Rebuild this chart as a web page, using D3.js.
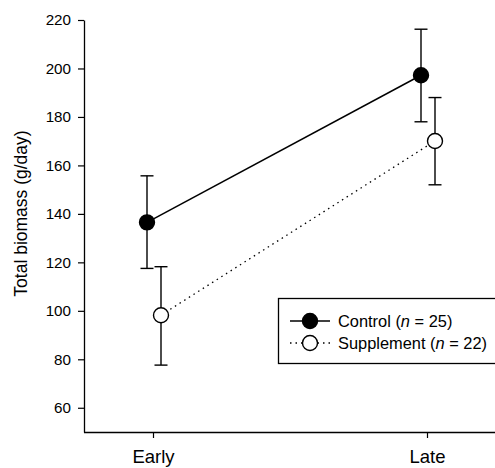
<!DOCTYPE html>
<html><head><meta charset="utf-8">
<script src="https://cdn.jsdelivr.net/npm/d3@7"></script>
<style>body{margin:0;background:#fff}svg{display:block}text{font-family:"Liberation Sans",Arial,sans-serif;fill:#000}</style>
</head><body><svg id="c" width="495" height="468"></svg>
<script>
const categories = ["Early", "Late"];
const controlMean = [136.5, 197.2];
const controlUpper = [155.7, 216.2];
const controlLower = [117.5, 178.0];
const suppMean = [98.2, 170.1];
const suppUpper = [118.2, 188.0];
const suppLower = [77.6, 152.0];
const yTicks = [60, 80, 100, 120, 140, 160, 180, 200, 220];
const seriesNames = ["Control", "Supplement"];
const seriesN = [25, 22];

const svg = d3.select("#c");
const x = d3.scalePoint().domain(categories).range([153, 427]);
const y = d3.scaleLinear().domain([50, 220]).range([432, 20]);

// axes
const yAxis = svg.append("g").attr("transform", "translate(84,0)")
  .call(d3.axisLeft(y).tickValues(yTicks).tickSize(6).tickSizeOuter(0));
yAxis.select(".domain").attr("stroke", "#000").attr("stroke-width", 1.3);
yAxis.selectAll(".tick line").attr("stroke-width", 1.2);
yAxis.selectAll(".tick text").attr("font-size", 15.2).attr("x", -13).attr("font-family", "Liberation Sans, Arial, sans-serif");

const xAxis = svg.append("g").attr("transform", "translate(0,432)")
  .call(d3.axisBottom(x).tickSize(6).tickSizeOuter(0));
xAxis.select(".domain").attr("d", "M84,0.5H495").attr("stroke-width", 1.3);
xAxis.selectAll(".tick line").attr("stroke-width", 1.2);
xAxis.selectAll(".tick text").attr("font-size", 18.5).attr("dy", 0).attr("y", 31).attr("font-family", "Liberation Sans, Arial, sans-serif");

svg.append("text").attr("transform", "translate(27,213.5) rotate(-90)")
  .attr("text-anchor", "middle").attr("font-size", 17.5).text("Total biomass (g/day)");

const series = [
  {mean: controlMean, up: controlUpper, lo: controlLower, off: -6, fill: "#000", dash: null},
  {mean: suppMean, up: suppUpper, lo: suppLower, off: 8, fill: "#fff", dash: "1.5,4"}
];

series.forEach(s => {
  const pts = categories.map((c, i) => ({x: x(c) + s.off, m: s.mean[i], u: s.up[i], l: s.lo[i]}));
  svg.append("path").attr("d", d3.line().x(d => d.x).y(d => y(d.m))(pts))
    .attr("fill", "none").attr("stroke", "#000").attr("stroke-width", s.dash ? 1.3 : 1.5)
    .attr("stroke-dasharray", s.dash);
  pts.forEach(p => {
    const g = svg.append("g").attr("stroke", "#000").attr("stroke-width", 1.4);
    g.append("line").attr("x1", p.x).attr("x2", p.x).attr("y1", y(p.u)).attr("y2", y(p.l));
    g.append("line").attr("x1", p.x - 6.5).attr("x2", p.x + 6.5).attr("y1", y(p.u)).attr("y2", y(p.u));
    g.append("line").attr("x1", p.x - 6.5).attr("x2", p.x + 6.5).attr("y1", y(p.l)).attr("y2", y(p.l));
    svg.append("circle").attr("cx", p.x).attr("cy", y(p.m)).attr("r", 7.5)
      .attr("fill", s.fill).attr("stroke", "#000").attr("stroke-width", 1.4);
  });
});

// legend
const lg = svg.append("g");
lg.append("rect").attr("x", 278.5).attr("y", 298.5).attr("width", 230).attr("height", 65)
  .attr("fill", "#fff").attr("stroke", "#000").attr("stroke-width", 1.3);
series.forEach((s, i) => {
  const cy = 321 + i * 22;
  lg.append("line").attr("x1", 290).attr("x2", 330).attr("y1", cy).attr("y2", cy)
    .attr("stroke", "#000").attr("stroke-width", s.dash ? 1.3 : 1.5).attr("stroke-dasharray", s.dash);
  lg.append("circle").attr("cx", 310).attr("cy", cy).attr("r", 7.5)
    .attr("fill", s.fill).attr("stroke", "#000").attr("stroke-width", 1.4);
  const t = lg.append("text").attr("x", 338).attr("y", cy + 6).attr("font-size", 16.4);
  t.append("tspan").text(seriesNames[i] + " (");
  t.append("tspan").attr("font-style", "italic").text("n");
  t.append("tspan").text(" = " + seriesN[i] + ")");
});
</script></body></html>
